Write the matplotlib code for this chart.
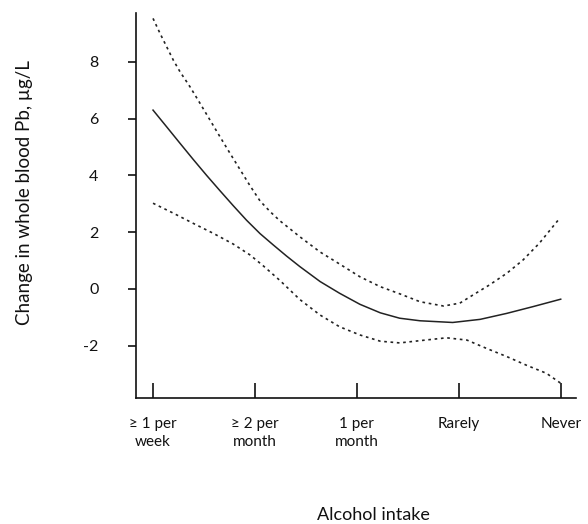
import matplotlib
matplotlib.use("Agg")
import matplotlib.pyplot as plt

plt.rcParams['font.family'] = ['Lato', 'DejaVu Sans']

categories = ["\u2265 1 per\nweek", "\u2265 2 per\nmonth", "1 per\nmonth", "Rarely", "Never"]

# positions along the category axis (0 = first category ... 4 = last)
est_x = [0, 0.134, 0.265, 0.395, 0.526, 0.657, 0.788, 0.918, 1.05, 1.18, 1.31, 1.44,
         1.64, 1.83, 2.03, 2.23, 2.42, 2.62, 2.94, 3.21, 3.47, 3.73, 4.0]
estimate = [6.30, 5.71, 5.13, 4.56, 4.00, 3.46, 2.93, 2.42, 1.95, 1.55, 1.16, 0.79,
            0.26, -0.15, -0.54, -0.84, -1.03, -1.12, -1.18, -1.07, -0.86, -0.62, -0.36]

upper_x = [0, 0.069, 0.134, 0.199, 0.265, 0.363, 0.461, 0.559, 0.657, 0.755, 0.853, 0.951,
           1.05, 1.15, 1.245, 1.35, 1.44, 1.64, 1.83, 2.03, 2.23, 2.42, 2.62, 2.85, 3.01, 3.14,
           3.30, 3.47, 3.63, 3.79, 3.99]
upper = [9.53, 9.00, 8.53, 8.06, 7.65, 7.12, 6.54, 5.95, 5.36, 4.78, 4.21, 3.64,
         3.10, 2.72, 2.40, 2.10, 1.84, 1.30, 0.88, 0.43, 0.08, -0.17, -0.45, -0.60, -0.50, -0.21,
         0.14, 0.55, 1.02, 1.61, 2.49]

lower_x = [0, 0.199, 0.395, 0.591, 0.788, 0.951, 1.08, 1.245, 1.44, 1.64, 1.83, 2.03,
           2.23, 2.42, 2.62, 2.88, 3.08, 3.27, 3.47, 3.66, 3.86, 4.0]
lower = [3.02, 2.67, 2.31, 1.96, 1.58, 1.20, 0.82, 0.30, -0.37, -0.92, -1.33, -1.62,
         -1.84, -1.90, -1.82, -1.72, -1.80, -2.09, -2.38, -2.68, -2.97, -3.32]

y_ticks = [-2, 0, 2, 4, 6, 8]

fig = plt.figure(figsize=(5.88, 5.24), dpi=100)
ax = fig.add_axes([136/588, 1-398/524, (576-136)/588, (398-13)/524])

line_col = '#222222'
dot_style = (0, (1.6, 2.2))
ax.plot(est_x, estimate, color=line_col, lw=1.1, linestyle='-')
ax.plot(upper_x, upper, color=line_col, lw=1.2, linestyle=dot_style)
ax.plot(lower_x, lower, color=line_col, lw=1.2, linestyle=dot_style)

ax.set_xlim(-0.167, 4.15)
ax.set_ylim(-3.84, 9.72)

for s in ['top', 'right']:
    ax.spines[s].set_visible(False)
for s in ['left', 'bottom']:
    ax.spines[s].set_linewidth(1.2)
    ax.spines[s].set_color('#111111')

ax.set_yticks(y_ticks)
ax.set_yticklabels([str(t) for t in y_ticks])
ax.tick_params(axis='y', direction='out', length=6, width=1.2, pad=21, labelsize=11.5, colors='#111111')

ax.set_xticks(range(len(categories)))
ax.set_xticklabels(categories, va='top', linespacing=1.3)
ax.tick_params(axis='x', direction='in', length=11, width=1.2, pad=14, labelsize=11, colors='#111111')

fig.text(25/588, 1-193/524, "Change in whole blood Pb, \u00b5g/L", rotation=90,
         ha='center', va='center', fontsize=13.5, color='#111111')
fig.text(373/588, 1-515/524, "Alcohol intake", ha='center', va='center', fontsize=13, color='#111111')

fig.savefig("out.png", dpi=100)
